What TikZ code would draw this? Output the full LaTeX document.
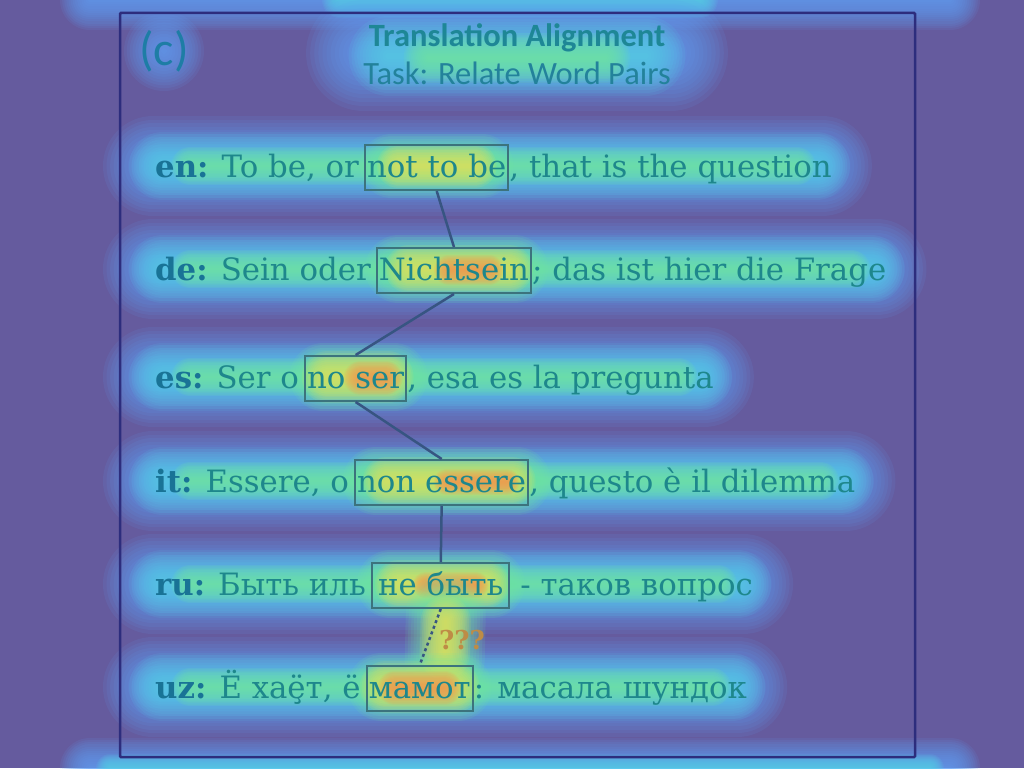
\documentclass[tikz,border=0pt]{standalone}
\usepackage{fontspec}
\usetikzlibrary{calc}
\setmainfont{DejaVu Serif}
\newfontfamily\titlefont{Carlito}
\definecolor{bgpurple}{RGB}{101,91,158}
\definecolor{hblue}{RGB}{95,160,245}
\definecolor{hcyan}{RGB}{85,210,235}
\definecolor{hgreen}{RGB}{115,232,160}
\definecolor{hyellow}{RGB}{232,228,90}
\definecolor{horange}{RGB}{245,150,80}
\definecolor{txt}{RGB}{30,135,140}
\definecolor{lbl}{RGB}{25,115,150}
\definecolor{framec}{RGB}{45,45,125}
\definecolor{boxc}{RGB}{60,115,125}
\definecolor{linkc}{RGB}{55,85,130}
\definecolor{qcol}{RGB}{190,140,70}
\pgfdeclarelayer{bg}
\pgfsetlayers{bg,main}
\newcommand\heat[4]{\foreach \i in {1,...,14}{\draw[#3,line width={#4*\i/14},opacity=0.11,line cap=round] #1--#2;}}
\newcommand\lab[1]{{\bfseries\color{lbl}#1}}
\newcommand\wsp{\hspace{5pt}\null}
\tikzset{
  linetext/.style={inner sep=0pt, anchor=base west, text=txt, font=\fontsize{30.8}{34}\selectfont},
  wordbox/.style={draw=boxc, line width=2pt, inner xsep=2pt, inner ysep=2pt, text height=30pt, text depth=11pt, anchor=base west, text=txt, font=\fontsize{30.8}{34}\selectfont},
  link/.style={draw=linkc, line width=2.5pt},
}
\begin{document}
\begin{tikzpicture}[x=1pt,y=-1pt]
\useasboundingbox (0,0) rectangle (1024,768);
% frame
\draw[framec, line width=2.5pt, rounded corners=1pt] (120,13) rectangle (915,757);
% title
\node[text={rgb,255:red,30;green,125;blue,165}, font=\titlefont\fontsize{48}{52}\selectfont, inner sep=0pt] (tag) at (164,51) {(c)};
\node[text={rgb,255:red,30;green,135;blue,150}, font=\titlefont\bfseries\fontsize{32.5}{36}\selectfont, inner sep=0pt] (title) at (517,38) {Translation Alignment};
\node[text={rgb,255:red,35;green,130;blue,155}, font=\titlefont\fontsize{32.5}{36}\selectfont, inner sep=0pt] (task) at (517,73) {Task: Relate Word Pairs};
% rows
\node[linetext] (enA) at (155,177) {\lab{en:} To be, or\wsp};
\node[wordbox] (enB) at (enA.base east) {not to be};
\node[linetext] (enC) at (enB.base east) {, that is the question};
\node[linetext] (deA) at (155,280) {\lab{de:} Sein oder\wsp};
\node[wordbox] (deB) at (deA.base east) {Nichtsein};
\node[linetext] (deC) at (deB.base east) {; das ist hier die Frage};
\node[linetext] (esA) at (155,388) {\lab{es:} Ser o\wsp};
\node[wordbox] (esB) at (esA.base east) {no ser};
\node[linetext] (esC) at (esB.base east) {, esa es la pregunta};
\node[linetext] (itA) at (155,492) {\lab{it:} Essere, o\wsp};
\node[wordbox] (itB) at (itA.base east) {non essere};
\node[linetext] (itC) at (itB.base east) {, questo è il dilemma};
\node[linetext] (ruA) at (155,595) {\lab{ru:} Быть иль\wsp};
\node[wordbox, inner xsep=6pt] (ruB) at (ruA.base east) {не быть};
\node[linetext] (ruC) at (ruB.base east) {\ - таков вопрос};
\node[linetext] (uzA) at (155,698) {\lab{uz:} Ё хаё̧т, ё\wsp};
\node[wordbox] (uzB) at (uzA.base east) {мамот};
\node[linetext] (uzC) at (uzB.base east) {: масала шундок};
% links
\draw[link] (enB.south) -- (deB.north);
\draw[link] (deB.south) -- (esB.north);
\draw[link] (esB.south) -- (itB.north);
\draw[link] (itB.south) -- (ruB.north);
\draw[link, dash pattern=on 3pt off 3pt] (ruB.south) -- (uzB.north);
\node[text=qcol, font=\bfseries\fontsize{26}{28}\selectfont, inner sep=0pt] (qq) at (462,640) {???};
% heat overlay (behind)
\begin{pgfonlayer}{bg}
\fill[bgpurple] (0,0) rectangle (1024,768);
\heat{(90,0)}{(950,0)}{hblue}{60}
\heat{(340,0)}{(700,0)}{hcyan}{36}
\heat{(90,768)}{(950,768)}{hblue}{60}
\heat{(110,768)}{(930,768)}{hcyan}{28}
\heat{($(title.west)+(-5,15)$)}{($(title.east)+(5,15)$)}{hblue}{115}
\heat{($(title.west)+(20,18)$)}{($(title.east)+(-20,18)$)}{hcyan}{80}
\heat{($(title.west)+(60,20)$)}{($(title.east)+(-60,20)$)}{hgreen}{50}
\heat{(tag.center)}{(tag.center)}{hblue}{80}
\foreach \r in {en,de,es,it,ru,uz}{
  \heat{($(\r A.base west)+(-2,-11)$)}{($(\r C.base east)+(-10,-11)$)}{hblue}{100}
  \heat{($(\r A.base west)+(8,-11)$)}{($(\r C.base east)+(-16,-11)$)}{hcyan}{68}
  \heat{($(\r A.base west)+(35,-11)$)}{($(\r C.base east)+(-35,-11)$)}{hgreen}{38}
}
\heat{($(enB.base)+(-45,-11)$)}{($(enB.base)+(45,-11)$)}{hgreen}{64}
\heat{($(enB.base)+(-38,-11)$)}{($(enB.base)+(38,-11)$)}{hyellow}{44}
\heat{($(deB.base)+(-55,-11)$)}{($(deB.base)+(60,-11)$)}{hgreen}{68}
\heat{($(deB.base)+(-45,-11)$)}{($(deB.base)+(55,-11)$)}{hyellow}{48}
\heat{($(deB.base)+(-5,-10)$)}{($(deB.base)+(35,-10)$)}{horange}{30}
\heat{($(esB.base)+(-32,-11)$)}{($(esB.base)+(38,-11)$)}{hgreen}{68}
\heat{($(esB.base)+(-28,-11)$)}{($(esB.base)+(32,-11)$)}{hyellow}{52}
\heat{($(esB.base)+(5,-10)$)}{($(esB.base)+(30,-10)$)}{horange}{34}
\heat{($(itB.base)+(-65,-11)$)}{($(itB.base)+(75,-11)$)}{hgreen}{68}
\heat{($(itB.base)+(-55,-11)$)}{($(itB.base)+(70,-11)$)}{hyellow}{48}
\heat{($(itB.base)+(5,-10)$)}{($(itB.base)+(65,-10)$)}{horange}{26}
\heat{($(ruB.base)+(-50,-11)$)}{($(ruB.base)+(50,-11)$)}{hgreen}{68}
\heat{($(ruB.base)+(-42,-11)$)}{($(ruB.base)+(45,-11)$)}{hyellow}{48}
\heat{($(ruB.base)+(-15,-10)$)}{($(ruB.base)+(35,-10)$)}{horange}{26}
\heat{($(ruB.south)+(5,5)$)}{($(uzB.north)+(25,-5)$)}{hgreen}{80}
\heat{($(ruB.south)+(5,12)$)}{($(uzB.north)+(25,-10)$)}{hyellow}{50}
\heat{($(uzB.base)+(-38,-11)$)}{($(uzB.base)+(38,-11)$)}{hgreen}{68}
\heat{($(uzB.base)+(-34,-11)$)}{($(uzB.base)+(34,-11)$)}{hyellow}{52}
\heat{($(uzB.base)+(-25,-10)$)}{($(uzB.base)+(25,-10)$)}{horange}{34}
\end{pgfonlayer}
\end{tikzpicture}
\end{document}
